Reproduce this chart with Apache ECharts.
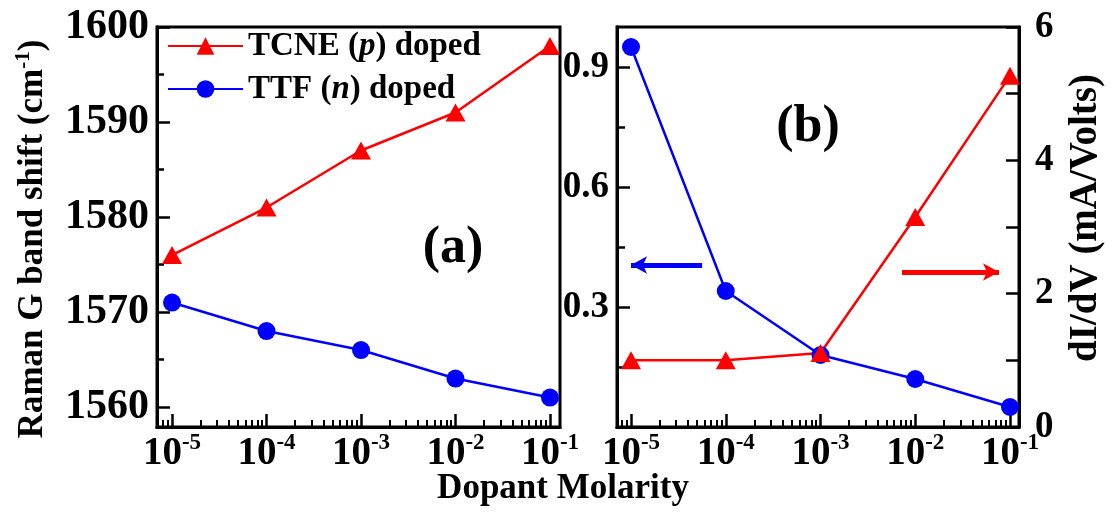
<!DOCTYPE html>
<html><head><meta charset="utf-8">
<script src="https://cdn.jsdelivr.net/npm/echarts@6/dist/echarts.min.js"></script>
<style>html,body{margin:0;padding:0;background:#fff}#c{width:1114px;height:514px}</style>
</head><body><div id="c"></div>
<script>
// ---- data ----
const molarityExp = [-5, -4, -3, -2, -1];          // log10 of dopant molarity
const ramanTCNE = [1576, 1581, 1587, 1591, 1598];   // panel (a), red
const ramanTTF  = [1571, 1568, 1566, 1563, 1561];   // panel (a), blue
const condTTF   = [0.95, 0.34, 0.18, 0.12, 0.05];   // panel (b), left axis, blue
const dIdVTCNE  = [1.0, 1.0, 1.11, 3.15, 5.27];     // panel (b), right axis, red
const ramanTicks = [1560, 1570, 1580, 1590, 1600];
const ramanMinor = [1565, 1575, 1585, 1595];
const leftBTicks = [0, 0.3, 0.6, 0.9];
const leftBMinor = [0.15, 0.45, 0.75];
const nameTCNE = 'TCNE (p) doped';
const nameTTF = 'TTF (n) doped';

const F = '"Liberation Serif","Times New Roman",serif';
const RED = '#ff0000', BLUE = '#0000ff';

function minorLog(min, max) {
  const out = [];
  for (let n = -6; n <= 0; n++) for (let k = 2; k <= 9; k++) {
    const v = n + Math.log10(k);
    if (v > min && v < max) out.push(v);
  }
  return out;
}
const xA = [-5.159, -0.894], xB = [-5.148, -0.905];
const AXLINE = { lineStyle: { color: '#000', width: 3 } };
const TICK = (len, vals, w) => ({ show: true, inside: true, length: len, customValues: vals, lineStyle: { color: '#000', width: w || 2.5 } });

const xLabel = {
  customValues: molarityExp,
  margin: 5,
  formatter: v => '{b|10}{s|' + Math.round(v) + '}',
  rich: {
    b: { fontFamily: F, fontWeight: 'bold', fontSize: 39, color: '#000' },
    s: { fontFamily: F, fontWeight: 'bold', fontSize: 23, color: '#000', padding: [0, 0, 20, 0] }
  }
};
function xMajor(grid, ext) {
  return { type: 'value', gridIndex: grid, min: ext[0], max: ext[1], position: 'bottom',
    axisLine: AXLINE, axisTick: TICK(13, molarityExp), axisLabel: xLabel, splitLine: { show: false } };
}
function xMinorAx(grid, ext) {
  return { type: 'value', gridIndex: grid, min: ext[0], max: ext[1], position: 'bottom',
    axisLine: AXLINE, axisTick: TICK(7, minorLog(ext[0], ext[1]), 2),
    axisLabel: { show: false }, splitLine: { show: false } };
}
const tickLbl = (size, margin, fmt) => ({ fontFamily: F, fontWeight: 'bold', fontSize: size, color: '#000', margin: margin, formatter: fmt });

const chart = echarts.init(document.getElementById('c'), null, { renderer: 'canvas' });
chart.setOption({
  animation: false,
  backgroundColor: '#fff',
  grid: [
    { left: 157, top: 27, width: 403, height: 400, show: true, borderColor: '#000', borderWidth: 3 },
    { left: 617, top: 27, width: 402, height: 400, show: true, borderColor: '#000', borderWidth: 3 }
  ],
  legend: {
    data: [nameTCNE, nameTTF], orient: 'vertical', left: 167, top: 26, padding: 0, itemGap: 3,
    itemWidth: 75, itemHeight: 22, selectedMode: false,
    formatter: n => n.replace(/\((p|n)\)/, '({i|$1})'),
    textStyle: { fontFamily: F, fontWeight: 'bold', fontSize: 33, color: '#000', lineHeight: 40,
      rich: { i: { fontFamily: F, fontWeight: 'bold', fontStyle: 'italic', fontSize: 33, color: '#000' } } }
  },
  xAxis: [xMajor(0, xA), xMinorAx(0, xA), xMajor(1, xB), xMinorAx(1, xB)],
  yAxis: [
    { type: 'value', gridIndex: 0, min: 1557.9, max: 1600, position: 'left',
      axisLine: AXLINE, axisTick: TICK(13, ramanTicks),
      axisLabel: Object.assign({ customValues: ramanTicks }, tickLbl(42, 8, v => String(v))), splitLine: { show: false } },
    { type: 'value', gridIndex: 0, min: 1557.9, max: 1600, position: 'left',
      axisLine: AXLINE, axisTick: TICK(7, ramanMinor),
      axisLabel: { show: false }, splitLine: { show: false } },
    { type: 'value', gridIndex: 1, min: 0, max: 1, position: 'left',
      axisLine: AXLINE, axisTick: TICK(13, leftBTicks),
      axisLabel: Object.assign({ customValues: leftBTicks.filter(v => v > 0) }, tickLbl(37, 8, v => v.toFixed(1))),
      splitLine: { show: false } },
    { type: 'value', gridIndex: 1, min: 0, max: 1, position: 'left',
      axisLine: AXLINE, axisTick: TICK(8, leftBMinor),
      axisLabel: { show: false }, splitLine: { show: false } },
    { type: 'value', gridIndex: 1, min: 0, max: 6, interval: 2, position: 'right',
      axisLine: AXLINE,
      axisTick: { show: true, inside: true, length: 13, lineStyle: { color: '#000', width: 2.5 } },
      minorTick: { show: true, splitNumber: 2, length: 13, lineStyle: { color: '#000', width: 2.5 } },
      axisLabel: tickLbl(37, 16), splitLine: { show: false }, minorSplitLine: { show: false } }
  ],
  series: [
    { name: nameTCNE, type: 'line', xAxisIndex: 0, yAxisIndex: 0,
      data: molarityExp.map((x, i) => [x, ramanTCNE[i]]),
      symbol: 'triangle', symbolSize: [20, 18], color: RED, lineStyle: { width: 2.5, color: RED },
      itemStyle: { color: RED }, emphasis: { disabled: true } },
    { name: nameTTF, type: 'line', xAxisIndex: 0, yAxisIndex: 0,
      data: molarityExp.map((x, i) => [x, ramanTTF[i]]),
      symbol: 'circle', symbolSize: 18, color: BLUE, lineStyle: { width: 2.5, color: BLUE },
      itemStyle: { color: BLUE }, emphasis: { disabled: true } },
    { name: 'TTF conductance', type: 'line', xAxisIndex: 2, yAxisIndex: 2,
      data: molarityExp.map((x, i) => [x, condTTF[i]]),
      symbol: 'circle', symbolSize: 18, color: BLUE, lineStyle: { width: 2.5, color: BLUE },
      itemStyle: { color: BLUE }, emphasis: { disabled: true },
      markLine: { silent: true, symbol: ['none', 'arrow'], symbolSize: [13, 16], label: { show: false },
        lineStyle: { color: BLUE, width: 5, type: 'solid' },
        data: [[{ coord: [-4.25, 0.405] }, { coord: [-5.0, 0.405] }]] } },
    { name: 'TCNE dI/dV', type: 'line', xAxisIndex: 2, yAxisIndex: 4,
      data: molarityExp.map((x, i) => [x, dIdVTCNE[i]]),
      symbol: 'triangle', symbolSize: [20, 18], color: RED, lineStyle: { width: 2.5, color: RED },
      itemStyle: { color: RED }, emphasis: { disabled: true },
      markLine: { silent: true, symbol: ['none', 'arrow'], symbolSize: [13, 16], label: { show: false },
        lineStyle: { color: RED, width: 5, type: 'solid' },
        data: [[{ coord: [-2.14, 2.325] }, { coord: [-1.116, 2.325] }]] } }
  ],
  graphic: [
    { type: 'text', x: 33, y: 239, rotation: Math.PI / 2,
      style: { text: 'Raman G band shift (cm{s|-1})', fontFamily: F, fontWeight: 'bold', fontSize: 35, fill: '#000',
        align: 'center', verticalAlign: 'middle',
        rich: { s: { fontFamily: F, fontWeight: 'bold', fontSize: 21, fill: '#000', padding: [0, 0, 18, 0] } } } },
    { type: 'text', x: 1086, y: 218, rotation: Math.PI / 2,
      style: { text: 'dI/dV (mA/Volts)', fontFamily: F, fontWeight: 'bold', fontSize: 39, fill: '#000',
        align: 'center', verticalAlign: 'middle' } },
    { type: 'text', x: 563, y: 489,
      style: { text: 'Dopant Molarity', fontFamily: F, fontWeight: 'bold', fontSize: 35, fill: '#000',
        align: 'center', verticalAlign: 'middle' } },
    { type: 'text', x: 453, y: 249,
      style: { text: '(a)', fontFamily: F, fontWeight: 'bold', fontSize: 52, fill: '#000', align: 'center', verticalAlign: 'middle' } },
    { type: 'text', x: 808, y: 128,
      style: { text: '(b)', fontFamily: F, fontWeight: 'bold', fontSize: 52, fill: '#000', align: 'center', verticalAlign: 'middle' } }
  ]
});
</script></body></html>
